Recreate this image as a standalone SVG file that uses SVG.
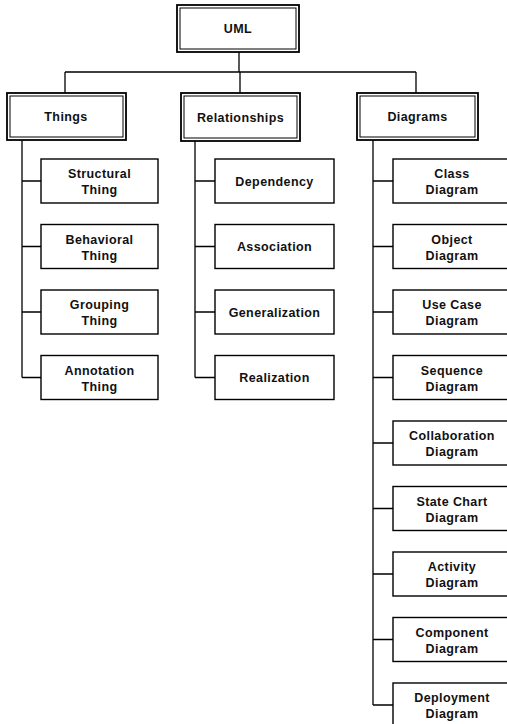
<svg xmlns="http://www.w3.org/2000/svg" width="507" height="724" viewBox="0 0 507 724">
<style>
rect{fill:#fff;stroke:#000}
.o{stroke-width:1.8}
.i{stroke-width:1}
.b{stroke-width:1.4}
text{font-family:"Liberation Sans",Arial,sans-serif;font-size:12.5px;font-weight:bold;letter-spacing:0.4px;text-anchor:middle;fill:#111}
#connectors path{fill:none;stroke:#000;stroke-width:1.3}
</style>
<rect x="0" y="0" width="507" height="724" style="fill:#fff;stroke:none"/>
<g id="connectors">
<path d="M239 52V72M65 72H416M65 72V93M240 72V93M416 72V93"/>
<path d="M22 140V377.5M22 181H41M22 246.5H41M22 312H41M22 377.5H41"/>
<path d="M195 141V377.5M195 181H215M195 246.5H215M195 312H215M195 377.5H215"/>
<path d="M373 140V705M373 181H393M373 246.5H393M373 312H393M373 377.5H393M373 443H393M373 508.5H393M373 574H393M373 639.5H393M373 705H393"/>
</g>
<g id="uml"><rect class="o" x="177" y="5" width="122" height="47"/><rect class="i" x="180" y="8" width="116" height="41"/><text x="238" y="33">UML</text></g>
<g id="things"><rect class="o" x="7" y="93" width="119" height="47"/><rect class="i" x="10" y="96" width="113" height="41"/><text x="66" y="121">Things</text></g>
<g id="relationships"><rect class="o" x="181" y="93" width="119" height="48"/><rect class="i" x="184" y="96" width="113" height="42"/><text x="240.5" y="121.5">Relationships</text></g>
<g id="diagrams"><rect class="o" x="357" y="93" width="121" height="47"/><rect class="i" x="360" y="96" width="115" height="41"/><text x="417.5" y="121">Diagrams</text></g>

<g id="structural"><rect class="b" x="41" y="159" width="117" height="44"/><text x="99.5" y="178">Structural</text><text x="99.5" y="194">Thing</text></g>
<g id="behavioral"><rect class="b" x="41" y="224.5" width="117" height="44"/><text x="99.5" y="243.5">Behavioral</text><text x="99.5" y="259.5">Thing</text></g>
<g id="grouping"><rect class="b" x="41" y="290" width="117" height="44"/><text x="99.5" y="309">Grouping</text><text x="99.5" y="325">Thing</text></g>
<g id="annotation"><rect class="b" x="41" y="355.5" width="117" height="44"/><text x="99.5" y="374.5">Annotation</text><text x="99.5" y="390.5">Thing</text></g>

<g id="dependency"><rect class="b" x="215" y="159" width="119" height="44"/><text x="274.5" y="185.5">Dependency</text></g>
<g id="association"><rect class="b" x="215" y="224.5" width="119" height="44"/><text x="274.5" y="251">Association</text></g>
<g id="generalization"><rect class="b" x="215" y="290" width="119" height="44"/><text x="274.5" y="316.5">Generalization</text></g>
<g id="realization"><rect class="b" x="215" y="355.5" width="119" height="44"/><text x="274.5" y="382">Realization</text></g>

<g id="class"><rect class="b" x="393" y="159" width="118" height="44"/><text x="452" y="178">Class</text><text x="452" y="194">Diagram</text></g>
<g id="object"><rect class="b" x="393" y="224.5" width="118" height="44"/><text x="452" y="243.5">Object</text><text x="452" y="259.5">Diagram</text></g>
<g id="usecase"><rect class="b" x="393" y="290" width="118" height="44"/><text x="452" y="309">Use Case</text><text x="452" y="325">Diagram</text></g>
<g id="sequence"><rect class="b" x="393" y="355.5" width="118" height="44"/><text x="452" y="374.5">Sequence</text><text x="452" y="390.5">Diagram</text></g>
<g id="collaboration"><rect class="b" x="393" y="421" width="118" height="44"/><text x="452" y="440">Collaboration</text><text x="452" y="456">Diagram</text></g>
<g id="statechart"><rect class="b" x="393" y="486.5" width="118" height="44"/><text x="452" y="505.5">State Chart</text><text x="452" y="521.5">Diagram</text></g>
<g id="activity"><rect class="b" x="393" y="552" width="118" height="44"/><text x="452" y="571">Activity</text><text x="452" y="587">Diagram</text></g>
<g id="component"><rect class="b" x="393" y="617.5" width="118" height="44"/><text x="452" y="636.5">Component</text><text x="452" y="652.5">Diagram</text></g>
<g id="deployment"><rect class="b" x="393" y="683" width="118" height="44"/><text x="452" y="702">Deployment</text><text x="452" y="718">Diagram</text></g>
</svg>
